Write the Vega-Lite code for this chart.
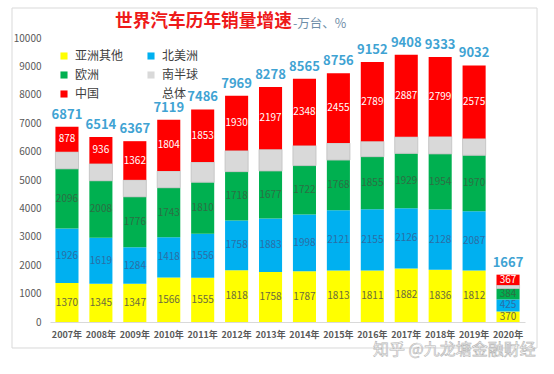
{
  "$schema": "https://vega.github.io/schema/vega-lite/v6.json",
  "width": 475,
  "height": 284,
  "autosize": {"type": "none"},
  "padding": {"left": 50, "top": 38, "right": 29, "bottom": 52},
  "background": "white",
  "config": {
    "font": "Noto Sans CJK SC",
    "view": {"stroke": null},
    "axisY": {"tickCount": 10, "labelOverlap": false, "format": "d", "labelFontSize": 10, "labelColor": "#595959", "domain": false, "ticks": false, "labelPadding": 9, "gridColor": "#d9d9d9", "grid": true},
    "axisX": {"labelAngle": 0, "labelFontSize": 9, "labelFontWeight": "bold", "labelColor": "#595959", "ticks": false, "domainColor": "#d9d9d9", "labelPadding": 8, "labelOverlap": false, "grid": false}
  },
  "datasets": {
    "regions": [
      {"region": "亚洲其他", "rank": 1},
      {"region": "北美洲", "rank": 2},
      {"region": "欧洲", "rank": 3},
      {"region": "南半球", "rank": 4},
      {"region": "中国", "rank": 5}
    ],
    "totals": [
      {"year": "2007年", "total": 6871},
      {"year": "2008年", "total": 6514},
      {"year": "2009年", "total": 6367},
      {"year": "2010年", "total": 7119},
      {"year": "2011年", "total": 7486},
      {"year": "2012年", "total": 7969},
      {"year": "2013年", "total": 8278},
      {"year": "2014年", "total": 8565},
      {"year": "2015年", "total": 8756},
      {"year": "2016年", "total": 9152},
      {"year": "2017年", "total": 9408},
      {"year": "2018年", "total": 9333},
      {"year": "2019年", "total": 9032},
      {"year": "2020年", "total": 1667}
    ],
    "segments": [
      {"year": "2007年", "region": "亚洲其他", "value": 1370},
      {"year": "2007年", "region": "北美洲", "value": 1926},
      {"year": "2007年", "region": "欧洲", "value": 2096},
      {"year": "2007年", "region": "南半球", "value": 601},
      {"year": "2007年", "region": "中国", "value": 878},
      {"year": "2008年", "region": "亚洲其他", "value": 1345},
      {"year": "2008年", "region": "北美洲", "value": 1619},
      {"year": "2008年", "region": "欧洲", "value": 2008},
      {"year": "2008年", "region": "南半球", "value": 606},
      {"year": "2008年", "region": "中国", "value": 936},
      {"year": "2009年", "region": "亚洲其他", "value": 1347},
      {"year": "2009年", "region": "北美洲", "value": 1284},
      {"year": "2009年", "region": "欧洲", "value": 1776},
      {"year": "2009年", "region": "南半球", "value": 598},
      {"year": "2009年", "region": "中国", "value": 1362},
      {"year": "2010年", "region": "亚洲其他", "value": 1566},
      {"year": "2010年", "region": "北美洲", "value": 1418},
      {"year": "2010年", "region": "欧洲", "value": 1743},
      {"year": "2010年", "region": "南半球", "value": 588},
      {"year": "2010年", "region": "中国", "value": 1804},
      {"year": "2011年", "region": "亚洲其他", "value": 1555},
      {"year": "2011年", "region": "北美洲", "value": 1556},
      {"year": "2011年", "region": "欧洲", "value": 1810},
      {"year": "2011年", "region": "南半球", "value": 712},
      {"year": "2011年", "region": "中国", "value": 1853},
      {"year": "2012年", "region": "亚洲其他", "value": 1818},
      {"year": "2012年", "region": "北美洲", "value": 1758},
      {"year": "2012年", "region": "欧洲", "value": 1718},
      {"year": "2012年", "region": "南半球", "value": 745},
      {"year": "2012年", "region": "中国", "value": 1930},
      {"year": "2013年", "region": "亚洲其他", "value": 1758},
      {"year": "2013年", "region": "北美洲", "value": 1883},
      {"year": "2013年", "region": "欧洲", "value": 1677},
      {"year": "2013年", "region": "南半球", "value": 763},
      {"year": "2013年", "region": "中国", "value": 2197},
      {"year": "2014年", "region": "亚洲其他", "value": 1787},
      {"year": "2014年", "region": "北美洲", "value": 1998},
      {"year": "2014年", "region": "欧洲", "value": 1722},
      {"year": "2014年", "region": "南半球", "value": 710},
      {"year": "2014年", "region": "中国", "value": 2348},
      {"year": "2015年", "region": "亚洲其他", "value": 1813},
      {"year": "2015年", "region": "北美洲", "value": 2121},
      {"year": "2015年", "region": "欧洲", "value": 1768},
      {"year": "2015年", "region": "南半球", "value": 599},
      {"year": "2015年", "region": "中国", "value": 2455},
      {"year": "2016年", "region": "亚洲其他", "value": 1811},
      {"year": "2016年", "region": "北美洲", "value": 2155},
      {"year": "2016年", "region": "欧洲", "value": 1855},
      {"year": "2016年", "region": "南半球", "value": 542},
      {"year": "2016年", "region": "中国", "value": 2789},
      {"year": "2017年", "region": "亚洲其他", "value": 1882},
      {"year": "2017年", "region": "北美洲", "value": 2126},
      {"year": "2017年", "region": "欧洲", "value": 1929},
      {"year": "2017年", "region": "南半球", "value": 584},
      {"year": "2017年", "region": "中国", "value": 2887},
      {"year": "2018年", "region": "亚洲其他", "value": 1836},
      {"year": "2018年", "region": "北美洲", "value": 2128},
      {"year": "2018年", "region": "欧洲", "value": 1954},
      {"year": "2018年", "region": "南半球", "value": 616},
      {"year": "2018年", "region": "中国", "value": 2799},
      {"year": "2019年", "region": "亚洲其他", "value": 1812},
      {"year": "2019年", "region": "北美洲", "value": 2087},
      {"year": "2019年", "region": "欧洲", "value": 1970},
      {"year": "2019年", "region": "南半球", "value": 588},
      {"year": "2019年", "region": "中国", "value": 2575},
      {"year": "2020年", "region": "亚洲其他", "value": 370},
      {"year": "2020年", "region": "北美洲", "value": 425},
      {"year": "2020年", "region": "欧洲", "value": 384},
      {"year": "2020年", "region": "南半球", "value": 121},
      {"year": "2020年", "region": "中国", "value": 367}
    ]
  },
  "layer": [
    {
      "data": {"values": [{}]},
      "layer": [
        {
          "mark": {"type": "rect", "fill": null, "stroke": "#d9d9d9", "strokeWidth": 1},
          "encoding": {
            "x": {"datum": -0.08, "type": "quantitative", "scale": {"domain": [0, 1]}, "axis": null},
            "x2": {"datum": 1.0253},
            "y": {"datum": -915, "type": "quantitative", "scale": {"domain": [0, 10000]}, "axis": null},
            "y2": {"datum": 11056}
          }
        },
        {
          "mark": {"type": "text", "text": "世界汽车历年销量增速", "align": "left", "baseline": "middle", "fontSize": 17.7, "fontWeight": "bold", "color": "#ee1a1a"},
          "encoding": {
            "x": {"datum": 0.1368, "type": "quantitative", "scale": {"domain": [0, 1]}, "axis": null},
            "y": {"datum": 10546, "type": "quantitative", "scale": {"domain": [0, 10000]}, "axis": null}
          }
        },
        {
          "mark": {"type": "text", "text": "-万台、%", "align": "left", "baseline": "middle", "fontSize": 12.5, "color": "#6f8ea8"},
          "encoding": {
            "x": {"datum": 0.5116, "type": "quantitative", "scale": {"domain": [0, 1]}, "axis": null},
            "y": {"datum": 10500, "type": "quantitative", "scale": {"domain": [0, 10000]}, "axis": null}
          }
        },
        {
          "mark": {"type": "text", "text": "知乎 @九龙塘金融财经", "align": "left", "baseline": "middle", "fontSize": 16, "fill": "#ffffff", "stroke": "#b4b4b4", "strokeWidth": 0.6},
          "encoding": {
            "x": {"datum": 0.68, "type": "quantitative", "scale": {"domain": [0, 1]}, "axis": null},
            "y": {"datum": -986, "type": "quantitative", "scale": {"domain": [0, 10000]}, "axis": null}
          }
        }
      ]
    },
    {
      "layer": [
        {
          "data": {"name": "segments"},
          "transform": [
            {"lookup": "region", "from": {"data": {"name": "regions"}, "key": "region", "fields": ["rank"]}}
          ],
          "mark": {"type": "bar", "strokeWidth": 0.8},
          "encoding": {
            "x": {
              "field": "year", "type": "nominal",
              "scale": {"paddingInner": 0.32, "paddingOuter": 0.16},
              "axis": {"title": null}
            },
            "y": {
              "field": "value", "type": "quantitative", "stack": "zero",
              "scale": {"domain": [0, 10000], "nice": false},
              "axis": {"title": null}
            },
            "color": {
              "field": "region", "type": "nominal",
              "scale": {
                "domain": ["亚洲其他", "欧洲", "中国", "北美洲", "南半球", "总体"],
                "range": ["#ffff00", "#00b050", "#ff0000", "#00b0f0", "#d9d9d9", "#ffffff"]
              },
              "legend": {
                "orient": "none", "legendX": 8, "legendY": 12, "columns": 2, "title": null,
                "symbolType": "square", "symbolSize": 50, "symbolStrokeWidth": 0,
                "labelFontSize": 12, "labelColor": "#404040", "labelOffset": 5,
                "rowPadding": 7, "columnPadding": 21, "gridAlign": "all", "padding": 0,
                "encode": {
                  "symbols": {
                    "update": {
                      "stroke": {"signal": "datum.value === '南半球' ? '#a6a6a6' : 'transparent'"},
                      "strokeWidth": {"value": 1},
                      "opacity": {"signal": "datum.value === '总体' ? 0 : 1"}
                    }
                  }
                }
              }
            },
            "stroke": {"condition": {"test": "datum.region === '南半球'", "value": "#bfbfbf"}, "value": null},
            "order": {"field": "rank", "type": "quantitative"}
          }
        },
        {
          "data": {"name": "segments"},
          "transform": [
            {"lookup": "region", "from": {"data": {"name": "regions"}, "key": "region", "fields": ["rank"]}},
            {"stack": "value", "groupby": ["year"], "sort": [{"field": "rank", "order": "ascending"}], "as": ["v0", "v1"]},
            {"filter": "datum.region !== '南半球'"},
            {"fold": ["v0", "v1"], "as": ["edge", "pos"]},
            {"aggregate": [{"op": "mean", "field": "pos", "as": "mid"}], "groupby": ["year", "region", "value"]}
          ],
          "mark": {"type": "text", "fontSize": 10, "baseline": "middle"},
          "encoding": {
            "x": {"field": "year", "type": "nominal", "axis": {"title": null}},
            "y": {"field": "mid", "type": "quantitative", "scale": {"domain": [0, 10000], "nice": false}, "axis": {"title": null}},
            "text": {"field": "value", "type": "quantitative"},
            "color": {
              "condition": [
                {"test": "datum.region === '中国'", "value": "#ffffff"},
                {"test": "datum.region === '北美洲'", "value": "#2b6ea6"},
                {"test": "datum.region === '欧洲'", "value": "#2d6e44"}
              ],
              "value": "#6b6b3e"
            }
          }
        },
        {
          "data": {"name": "totals"},
          "mark": {"type": "text", "fontSize": 13, "fontWeight": "bold", "baseline": "bottom", "dy": -5, "color": "#3fa3d3"},
          "encoding": {
            "x": {"field": "year", "type": "nominal", "axis": {"title": null}},
            "y": {"field": "total", "type": "quantitative", "scale": {"domain": [0, 10000], "nice": false}, "axis": {"title": null}},
            "text": {"field": "total", "type": "quantitative"}
          }
        }
      ]
    }
  ],
  "resolve": {"scale": {"x": "independent", "y": "independent"}}
}
